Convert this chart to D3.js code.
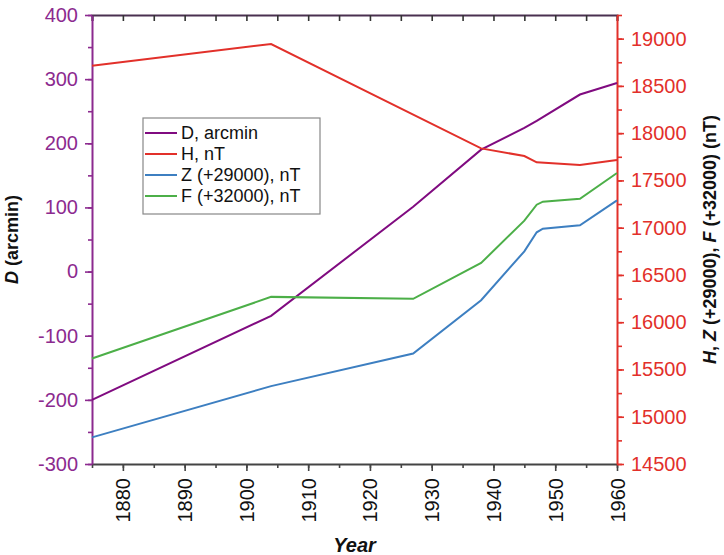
<!DOCTYPE html>
<html>
<head>
<meta charset="utf-8">
<script src="https://cdn.jsdelivr.net/npm/d3@7"></script>
<style>
  body { margin: 0; background: #fff; }
  text { font-family: "Liberation Sans", Arial, sans-serif; }
</style>
</head>
<body>
<div id="chart"></div>
<script>
// values
const yearsD = [1875, 1904, 1927, 1938, 1945, 1947, 1954, 1960]
const valD = [-200, -69, 101, 190, 224, 235, 276, 294]

const yearsH = [1875, 1904, 1938, 1945, 1947, 1954, 1960]
const valH = [18714, 18943, 17839, 17758, 17691, 17663, 17716]

const yearsZF = [1875, 1904, 1927, 1938, 1945, 1947, 1948, 1954, 1960]
const valZ = [14782, 15324, 15669, 16232, 16750, 16951, 16990, 17025, 17289]
const valF = [15616, 16268, 16247, 16627, 17074, 17243, 17275, 17306, 17578]

const xTicks = [1880, 1890, 1900, 1910, 1920, 1930, 1940, 1950, 1960]
const leftTicks = [-300, -200, -100, 0, 100, 200, 300, 400]
const rightTicks = [14500, 15000, 15500, 16000, 16500, 17000, 17500, 18000, 18500, 19000]

const legendNames = ["D, arcmin", "H, nT", "Z (+29000), nT", "F (+32000), nT"]

const W = 724, H = 555
const m = {left: 92, right: 107, top: 15, bottom: 91}
const purple = "#8c2a8f", red = "#e2302a", blue = "#3d7fc1", green = "#4caf48"
const lineColors = ["#800b80", red, blue, green]
const plain = d => String(d)

let svg = d3.select("#chart").append("svg")
    .attr("width", W)
    .attr("height", H)

let x = d3.scaleLinear().domain([1875, 1960]).range([m.left, W - m.right])
let yL = d3.scaleLinear().domain([-300, 400]).range([H - m.bottom, m.top])
let yR = d3.scaleLinear().domain([14500, 19250]).range([H - m.bottom, m.top])

// top border with inward ticks
svg.append("g")
    .attr("transform", "translate(0," + m.top + ")")
    .call(d3.axisTop(x).tickValues(d3.range(1875, 1961, 5)).tickSize(-6).tickFormat(""))
    .call(g => g.select(".domain").attr("stroke", "#4a3050").attr("stroke-width", 2))
    .call(g => g.selectAll(".tick line").attr("stroke", "#333").attr("stroke-width", 1.6))

// bottom axis: minor then major
svg.append("g")
    .attr("transform", "translate(0," + (H - m.bottom) + ")")
    .call(d3.axisBottom(x).tickValues(d3.range(1875, 1961, 5)).tickSize(4).tickFormat(""))
    .call(g => g.select(".domain").remove())
    .call(g => g.selectAll(".tick line").attr("stroke", "#444").attr("stroke-width", 1.6))

let xAxis = svg.append("g")
    .attr("transform", "translate(0," + (H - m.bottom) + ")")
    .call(d3.axisBottom(x).tickValues(xTicks).tickSize(7).tickSizeOuter(0).tickFormat(plain))
xAxis.select(".domain").attr("stroke", "#444").attr("stroke-width", 2)
xAxis.selectAll(".tick line").attr("stroke", "#444").attr("stroke-width", 1.6)
xAxis.selectAll(".tick text")
    .attr("transform", "rotate(-90)")
    .attr("x", -14)
    .attr("y", 0)
    .attr("dy", "0.35em")
    .attr("text-anchor", "end")
    .attr("fill", "#111")
    .style("font-size", "20px")

// left axis
svg.append("g")
    .attr("transform", "translate(" + m.left + ",0)")
    .call(d3.axisLeft(yL).tickValues(d3.range(-300, 401, 50)).tickSize(4).tickFormat(""))
    .call(g => g.select(".domain").remove())
    .call(g => g.selectAll(".tick line").attr("stroke", purple).attr("stroke-width", 1.6))

let yAxisL = svg.append("g")
    .attr("transform", "translate(" + m.left + ",0)")
    .call(d3.axisLeft(yL).tickValues(leftTicks).tickSize(7).tickSizeOuter(0).tickPadding(7).tickFormat(plain))
yAxisL.select(".domain").attr("stroke", purple).attr("stroke-width", 2)
yAxisL.selectAll(".tick line").attr("stroke", purple).attr("stroke-width", 1.6)
yAxisL.selectAll(".tick text").attr("fill", purple).style("font-size", "20px")

// right axis
svg.append("g")
    .attr("transform", "translate(" + (W - m.right) + ",0)")
    .call(d3.axisRight(yR).tickValues(d3.range(14500, 19251, 250)).tickSize(5).tickFormat(""))
    .call(g => g.select(".domain").remove())
    .call(g => g.selectAll(".tick line").attr("stroke", red).attr("stroke-width", 1.6))

let yAxisR = svg.append("g")
    .attr("transform", "translate(" + (W - m.right) + ",0)")
    .call(d3.axisRight(yR).tickValues(rightTicks).tickSize(7).tickSizeOuter(0).tickPadding(7).tickFormat(plain))
yAxisR.select(".domain").attr("stroke", red).attr("stroke-width", 2)
yAxisR.selectAll(".tick line").attr("stroke", red).attr("stroke-width", 1.6)
yAxisR.selectAll(".tick text").attr("fill", red).style("font-size", "20px")

// data lines
const series = [
    {yrs: yearsD, vals: valD, sc: yL},
    {yrs: yearsH, vals: valH, sc: yR},
    {yrs: yearsZF, vals: valZ, sc: yR},
    {yrs: yearsZF, vals: valF, sc: yR}
]
series.forEach((s, i) => {
    let line = d3.line().x((d, j) => x(s.yrs[j])).y(d => s.sc(d))
    svg.append("path")
        .attr("d", line(s.vals))
        .attr("fill", "none")
        .attr("stroke", lineColors[i])
        .attr("stroke-width", 2)
})

// legend
let leg = svg.append("g").attr("transform", "translate(143,118)")
leg.append("rect")
    .attr("width", 177)
    .attr("height", 96)
    .attr("fill", "#fff")
    .attr("stroke", "#888")
    .attr("stroke-width", 1.2)
legendNames.forEach((n, i) => {
    let yy = 15 + i * 21
    leg.append("line")
        .attr("x1", 2).attr("x2", 34)
        .attr("y1", yy).attr("y2", yy)
        .attr("stroke", lineColors[i])
        .attr("stroke-width", 2)
    leg.append("text")
        .attr("x", 38)
        .attr("y", yy)
        .attr("dy", "0.36em")
        .style("font-size", "18px")
        .attr("fill", "#111")
        .text(n)
})

// axis titles
let tL = svg.append("text")
    .attr("transform", "translate(18," + ((m.top + H - m.bottom) / 2) + ") rotate(-90)")
    .attr("text-anchor", "middle")
    .style("font-size", "18px")
    .style("font-weight", "bold")
    .attr("fill", "#111")
tL.append("tspan").style("font-style", "italic").text("D")
tL.append("tspan").text(" (arcmin)")

let tR = svg.append("text")
    .attr("transform", "translate(716," + ((m.top + H - m.bottom) / 2) + ") rotate(-90)")
    .attr("text-anchor", "middle")
    .style("font-size", "18px")
    .style("font-weight", "bold")
    .attr("fill", "#111")
tR.append("tspan").style("font-style", "italic").text("H")
tR.append("tspan").text(", ")
tR.append("tspan").style("font-style", "italic").text("Z")
tR.append("tspan").text(" (+29000), ")
tR.append("tspan").style("font-style", "italic").text("F")
tR.append("tspan").text(" (+32000) (nT)")

svg.append("text")
    .attr("x", (m.left + W - m.right) / 2)
    .attr("y", 552)
    .attr("text-anchor", "middle")
    .style("font-size", "20px")
    .style("font-weight", "bold")
    .style("font-style", "italic")
    .attr("fill", "#111")
    .text("Year")
</script>
</body>
</html>
